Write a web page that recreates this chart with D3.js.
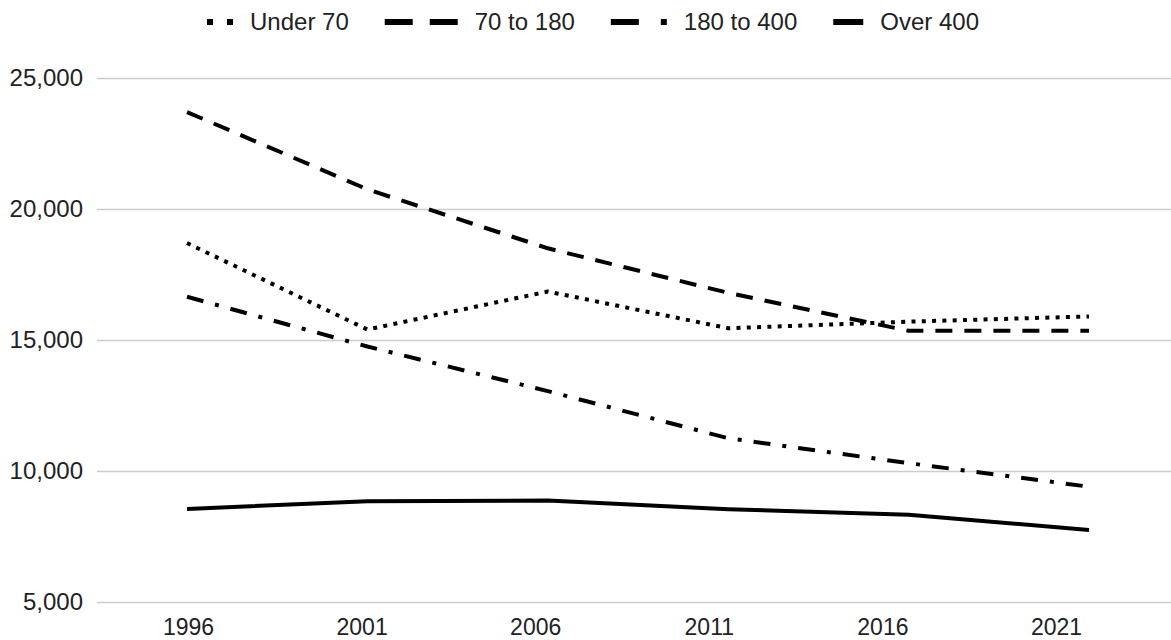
<!DOCTYPE html>
<html>
<head>
<meta charset="utf-8">
<script src="https://cdn.jsdelivr.net/npm/d3@7"></script>
<style>
  body { margin: 0; background: #fff; }
  svg { display: block; font-family: "Liberation Sans", Arial, sans-serif; }
  .tick text { fill: #222; font-size: 24px; }
  .x-axis .tick text { font-size: 23px; }
</style>
</head>
<body>
<div id="chart"></div>
<script>
// values
const years = ["1996", "2001", "2006", "2011", "2016", "2021"];
const under70 = [18700, 15400, 16850, 15450, 15700, 15900];
const from70to180 = [23700, 20750, 18500, 16800, 15350, 15350];
const from180to400 = [16650, 14750, 13050, 11250, 10300, 9400];
const over400 = [8550, 8850, 8870, 8540, 8330, 7750];
const yTicks = [5000, 10000, 15000, 20000, 25000];
const seriesNames = ["Under 70", "70 to 180", "180 to 400", "Over 400"];

const width = 1171, height = 640;
const plotLeft = 97, plotRight = 1171, plotTop = 78, plotBottom = 602;

// styling per series (dash patterns, legend icon lengths)
const styles = [
    { dash: "4,6.3", legendDash: "6,14", legendLen: 26 },
    { dash: "17,12", legendDash: "28,17", legendLen: 73 },
    { dash: "17,12,4,12", legendDash: "28,22,6,30", legendLen: 56 },
    { dash: null, legendDash: null, legendLen: 30 }
];

const series = [under70, from70to180, from180to400, over400].map((vals, i) => ({
    name: seriesNames[i],
    values: vals.map((v, j) => ({ year: years[j], value: v })),
    style: styles[i]
}));

const svg = d3.select("#chart").append("svg")
    .attr("width", width)
    .attr("height", height);

// points and the category labels are not spaced the same in the original
let x = d3.scalePoint().domain(years).range([187, 1089]);
let xLabels = d3.scalePoint().domain(years).range([188, 1056]);
let y = d3.scaleLinear().domain([5000, 25000]).range([plotBottom, plotTop]);

// y axis + gridlines
let yAxis = svg.append("g")
    .attr("transform", `translate(${plotLeft},0)`)
    .call(d3.axisLeft(y).tickValues(yTicks).tickSize(-(plotRight - plotLeft)).tickPadding(14)
        .tickFormat(d3.format(",")));
yAxis.select(".domain").remove();
yAxis.selectAll(".tick line").attr("stroke", "#cccccc").attr("stroke-width", 1.6);

// x axis labels
let xAxis = svg.append("g")
    .attr("class", "x-axis")
    .attr("transform", `translate(0,${plotBottom})`)
    .call(d3.axisBottom(xLabels).tickSize(0).tickPadding(17));
xAxis.select(".domain").remove();

let line = d3.line()
    .x(d => x(d.year))
    .y(d => y(d.value));

svg.selectAll("path.series")
    .data(series)
    .join("path")
    .attr("class", "series")
    .attr("d", d => line(d.values))
    .attr("fill", "none")
    .attr("stroke", "#000")
    .attr("stroke-width", 4)
    .attr("stroke-linejoin", "round")
    .attr("stroke-dasharray", d => d.style.dash);

// legend
let legend = svg.append("g").attr("class", "legend");
let lx = 207;
const ly = 22;
series.forEach((s, i) => {
    let g = legend.append("g");
    g.append("line")
        .attr("x1", lx).attr("x2", lx + s.style.legendLen)
        .attr("y1", ly).attr("y2", ly)
        .attr("stroke", "#000")
        .attr("stroke-width", 6)
        .attr("stroke-dasharray", s.style.legendDash);
    lx += s.style.legendLen + 17;
    let t = g.append("text")
        .attr("x", lx).attr("y", ly)
        .attr("dy", "0.35em")
        .attr("fill", "#222")
        .style("font-size", "24px")
        .text(s.name);
    lx += t.node().getComputedTextLength() + 36;
});
</script>
</body>
</html>
